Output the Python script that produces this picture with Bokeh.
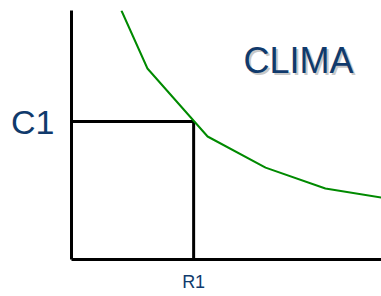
from bokeh.plotting import figure
from bokeh.models import Range1d, FixedTicker, Label
from bokeh.embed import file_html
from bokeh.resources import INLINE

# data
curve_x = [1.61, 2.45, 4.39, 6.26, 8.19, 10.0]
curve_y = [10.0, 7.67, 4.94, 3.69, 2.85, 2.49]
r1_value = 3.94
c1_value = 5.54
x_tick_label = "R1"
y_tick_label = "C1"
title_text = "CLIMA"

navy = "#103A6C"

p = figure(width=381, height=296, output_backend="svg", toolbar_location=None,
           x_range=Range1d(0, 10), y_range=Range1d(0, 10),
           min_border_left=71, min_border_right=0, min_border_top=10, min_border_bottom=37)
p.outline_line_color = None
p.xgrid.visible = False
p.ygrid.visible = False
p.background_fill_color = "white"
p.border_fill_color = "white"

for ax in (p.xaxis[0], p.yaxis[0]):
    ax.axis_line_color = "black"
    ax.axis_line_width = 3
    ax.major_tick_line_color = None
    ax.minor_tick_line_color = None
    ax.major_tick_in = 0
    ax.major_tick_out = 0
    ax.major_label_text_color = navy
    ax.major_label_text_font = "Liberation Sans"

p.xaxis[0].ticker = FixedTicker(ticks=[r1_value])
p.xaxis[0].major_label_overrides = {r1_value: x_tick_label}
p.xaxis[0].major_label_text_font_size = "18px"
p.xaxis[0].major_label_standoff = 12

p.yaxis[0].ticker = FixedTicker(ticks=[c1_value])
p.yaxis[0].major_label_overrides = {c1_value: y_tick_label}
p.yaxis[0].major_label_text_font_size = "34px"
p.yaxis[0].major_label_standoff = 17

p.line([0, r1_value], [c1_value, c1_value], line_color="black", line_width=3)
p.line([r1_value, r1_value], [0, c1_value], line_color="black", line_width=3)
p.line(curve_x, curve_y, line_color="#008A00", line_width=2)

shadow = Label(x=5.55, y=7.18, text=title_text, text_font="Liberation Sans",
               text_font_size="36px", text_color="#C8C8C8", x_offset=2, y_offset=-2)
main = Label(x=5.55, y=7.18, text=title_text, text_font="Liberation Sans",
             text_font_size="36px", text_color=navy)
p.add_layout(shadow)
p.add_layout(main)

open("out.html", "w").write(file_html(p, INLINE))
